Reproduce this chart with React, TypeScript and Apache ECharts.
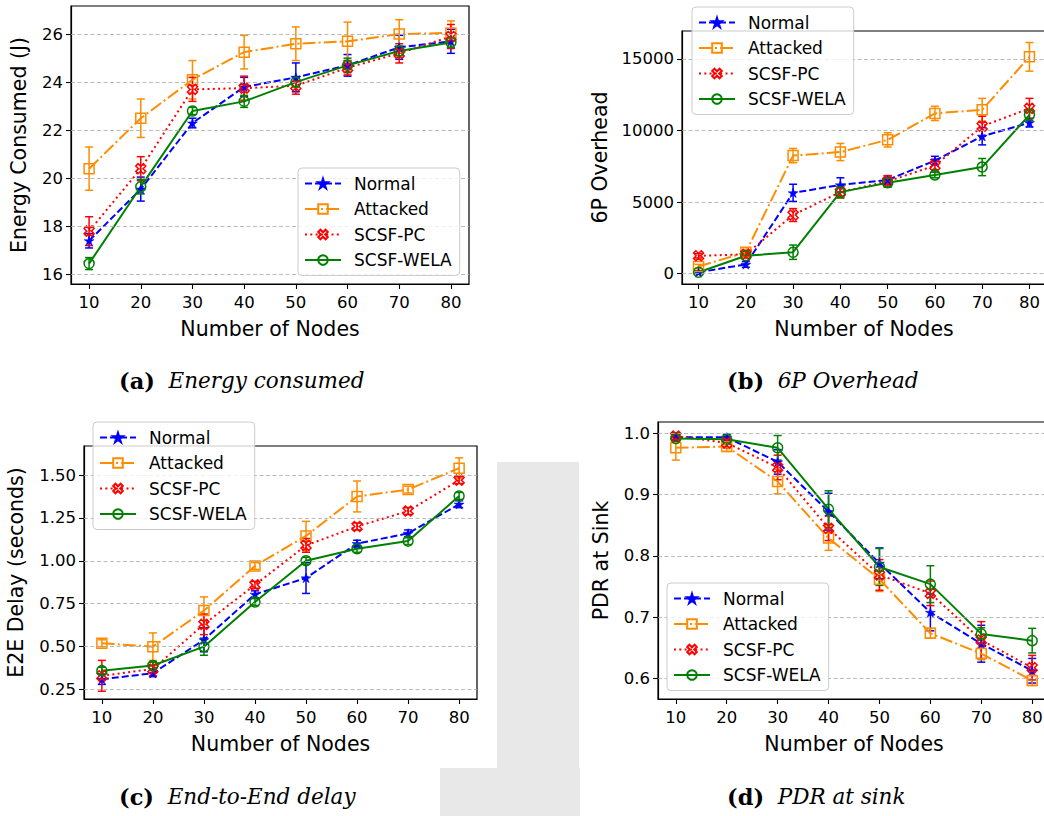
import React, { useEffect, useRef } from "react";
import * as echarts from "echarts";

// ---------- data ----------
const nodes = [10, 20, 30, 40, 50, 60, 70, 80];
const seriesNames = ["Normal", "Attacked", "SCSF-PC", "SCSF-WELA"];
const xTicks = [10, 20, 30, 40, 50, 60, 70, 80];

// (a) Energy consumed (J)
const energyNormal = [17.4, 19.55, 22.3, 23.8, 24.2, 24.7, 25.45, 25.7];
const energyNormalErr = [0.3, 0.5, 0.2, 0.4, 0.6, 0.45, 0.5, 0.5];
const energyAttacked = [20.4, 22.5, 24.1, 25.25, 25.6, 25.7, 26.0, 26.05];
const energyAttackedErr = [0.9, 0.8, 0.8, 0.7, 0.7, 0.8, 0.6, 0.5];
const energyPC = [17.8, 20.4, 23.7, 23.75, 23.85, 24.6, 25.2, 25.9];
const energyPCErr = [0.6, 0.5, 0.5, 0.5, 0.35, 0.3, 0.4, 0.5];
const energyWELA = [16.45, 19.65, 22.8, 23.2, 24.0, 24.7, 25.3, 25.65];
const energyWELAErr = [0.25, 0.3, 0.15, 0.25, 0.2, 0.3, 0.2, 0.2];
const energyTicks = [16, 18, 20, 22, 24, 26];

// (b) 6P overhead
const overheadNormal = [100, 650, 5650, 6200, 6550, 7900, 9600, 10550];
const overheadNormalErr = [80, 200, 600, 500, 300, 300, 600, 300];
const overheadAttacked = [500, 1500, 8250, 8500, 9350, 11200, 11450, 15150];
const overheadAttackedErr = [150, 200, 500, 600, 500, 500, 800, 1000];
const overheadPC = [1250, 1350, 4100, 5700, 6450, 7550, 10300, 11550];
const overheadPCErr = [150, 150, 450, 400, 400, 450, 700, 700];
const overheadWELA = [100, 1250, 1500, 5700, 6350, 6900, 7450, 11100];
const overheadWELAErr = [80, 150, 500, 400, 300, 200, 600, 400];
const overheadTicks = [0, 5000, 10000, 15000];

// (c) End-to-end delay (s)
const delayNormal = [0.31, 0.345, 0.54, 0.805, 0.9, 1.1, 1.16, 1.33];
const delayNormalErr = [0.03, 0.02, 0.07, 0.02, 0.09, 0.02, 0.02, 0.02];
const delayAttacked = [0.52, 0.5, 0.71, 0.97, 1.145, 1.375, 1.415, 1.54];
const delayAttackedErr = [0.02, 0.08, 0.08, 0.02, 0.085, 0.09, 0.02, 0.06];
const delayPC = [0.33, 0.37, 0.63, 0.86, 1.09, 1.2, 1.29, 1.47];
const delayPCErr = [0.09, 0.04, 0.06, 0.02, 0.04, 0.02, 0.02, 0.02];
const delayWELA = [0.36, 0.39, 0.5, 0.76, 1.0, 1.07, 1.115, 1.378];
const delayWELAErr = [0.02, 0.02, 0.05, 0.02, 0.02, 0.02, 0.02, 0.02];
const delayTicks = [0.25, 0.5, 0.75, 1.0, 1.25, 1.5];

// (d) PDR at sink
const pdrNormal = [0.993, 0.993, 0.953, 0.872, 0.788, 0.708, 0.657, 0.613];
const pdrNormalErr = [0.005, 0.005, 0.02, 0.03, 0.025, 0.03, 0.03, 0.02];
const pdrAttacked = [0.976, 0.978, 0.921, 0.829, 0.762, 0.674, 0.641, 0.597];
const pdrAttackedErr = [0.02, 0.008, 0.02, 0.02, 0.02, 0.008, 0.01, 0.008];
const pdrPC = [0.995, 0.984, 0.944, 0.845, 0.769, 0.739, 0.663, 0.618];
const pdrPCErr = [0.005, 0.008, 0.02, 0.02, 0.025, 0.02, 0.03, 0.02];
const pdrWELA = [0.991, 0.99, 0.976, 0.876, 0.782, 0.754, 0.673, 0.662];
const pdrWELAErr = [0.005, 0.005, 0.02, 0.03, 0.03, 0.03, 0.01, 0.02];
const pdrTicks = [0.6, 0.7, 0.8, 0.9, 1.0];

// ---------- styles ----------
const FONT = "DejaVu Sans";
const SERIF = "DejaVu Serif";
const colors = ["#0000ff", "#ff8c00", "#ff0000", "#008000"];
const dashes: any[] = [[7, 3], [12.8, 3.2, 2, 3.2], [2, 3.3], "solid"];
const STAR =
  "path://M0,-1 L0.2245,-0.309 L0.951,-0.309 L0.363,0.118 L0.588,0.809 L0,0.382 L-0.588,0.809 L-0.363,0.118 L-0.951,-0.309 L-0.2245,-0.309 Z";
const XMARK =
  "path://M0.495,-0.919 L0.919,-0.495 L0.424,0 L0.919,0.495 L0.495,0.919 L0,0.424 L-0.495,0.919 L-0.919,0.495 L-0.424,0 L-0.919,-0.495 L-0.495,-0.919 L0,-0.424 Z";
const symbols = [STAR, "rect", XMARK, "circle"];
const symbolSizes = [10, 10, 10, 10];

const panels = [
  {
    vals: [energyNormal, energyAttacked, energyPC, energyWELA],
    errs: [energyNormalErr, energyAttackedErr, energyPCErr, energyWELAErr],
    ticks: energyTicks, fmt: (v: number) => String(v),
    yName: "Energy Consumed (J)", yMin: 15.6, yMax: 27.17,
    grid: { left: 71, top: 6, width: 398, height: 278 }, nameGap: 42,
    legend: { left: 298, top: 168 },
    caption: { tag: "(a)", text: "Energy consumed", left: 119, top: 369 },
  },
  {
    vals: [overheadNormal, overheadAttacked, overheadPC, overheadWELA],
    errs: [overheadNormalErr, overheadAttackedErr, overheadPCErr, overheadWELAErr],
    ticks: overheadTicks, fmt: (v: number) => String(v),
    yName: "6P Overhead", yMin: -720, yMax: 16956,
    grid: { left: 682, top: 31, width: 364, height: 253 }, nameGap: 72,
    legend: { left: 692, top: 7 },
    caption: { tag: "(b)", text: "6P Overhead", left: 727, top: 369 },
  },
  {
    vals: [delayNormal, delayAttacked, delayPC, delayWELA],
    errs: [delayNormalErr, delayAttackedErr, delayPCErr, delayWELAErr],
    ticks: delayTicks, fmt: (v: number) => v.toFixed(2),
    yName: "E2E Delay (seconds)", yMin: 0.195, yMax: 1.669,
    grid: { left: 84, top: 446, width: 393, height: 253 }, nameGap: 58,
    legend: { left: 93, top: 422 },
    caption: { tag: "(c)", text: "End-to-End delay", left: 119, top: 785 },
  },
  {
    vals: [pdrNormal, pdrAttacked, pdrPC, pdrWELA],
    errs: [pdrNormalErr, pdrAttackedErr, pdrPCErr, pdrWELAErr],
    ticks: pdrTicks, fmt: (v: number) => v.toFixed(1),
    yName: "PDR at Sink", yMin: 0.567, yMax: 1.018,
    grid: { left: 658, top: 422, width: 392, height: 277 }, nameGap: 47,
    legend: { left: 667, top: 583 },
    caption: { tag: "(d)", text: "PDR at sink", left: 727, top: 785 },
  },
];

function buildOption() {
  const grid: any[] = [];
  const xAxis: any[] = [];
  const yAxis: any[] = [];
  const legend: any[] = [];
  const series: any[] = [];
  const graphic: any[] = [
    { type: "rect", z: -10, shape: { x: 497, y: 462, width: 82, height: 306 }, style: { fill: "#e8e8e8" } },
    { type: "rect", z: -10, shape: { x: 440, y: 768, width: 140, height: 48 }, style: { fill: "#e8e8e8" } },
  ];

  panels.forEach((p, i) => {
    grid.push({
      ...p.grid,
      show: true,
      backgroundColor: "#ffffff",
      borderColor: "#000",
      borderWidth: 1.2,
      containLabel: false,
      outerBoundsMode: "none",
    });
    xAxis.push({
      type: "value",
      gridIndex: i,
      min: 6.5,
      max: 83.5,
      axisLine: { show: true, onZero: false, lineStyle: { color: "#000", width: 1.2 } },
      axisTick: { show: true, customValues: xTicks, length: 5, lineStyle: { color: "#000", width: 1.1 } },
      axisLabel: { customValues: xTicks, fontSize: 16.5, fontFamily: FONT, color: "#000", margin: 10 },
      splitLine: { show: false },
      name: "Number of Nodes",
      nameLocation: "middle",
      nameGap: 34,
      nameTextStyle: { fontSize: 20.5, fontFamily: FONT, color: "#000" },
    });
    yAxis.push({
      type: "value",
      gridIndex: i,
      min: p.yMin,
      max: p.yMax,
      axisLine: { show: true, onZero: false, lineStyle: { color: "#000", width: 1.2 } },
      axisTick: { show: true, customValues: p.ticks, length: 5, lineStyle: { color: "#000", width: 1.1 } },
      axisLabel: { customValues: p.ticks, formatter: p.fmt, fontSize: 16.5, fontFamily: FONT, color: "#000", margin: 8 },
      splitLine: { show: false },
      name: p.yName,
      nameLocation: "middle",
      nameGap: p.nameGap,
      nameTextStyle: { fontSize: 20.5, fontFamily: FONT, color: "#000" },
    });
    legend.push({
      data: seriesNames,
      orient: "vertical",
      left: p.legend.left,
      top: p.legend.top,
      itemWidth: 36,
      itemHeight: 12,
      itemGap: 8.5,
      selectedMode: false,
      textStyle: { fontSize: 17, fontFamily: FONT, color: "#000", lineHeight: 17, padding: [0, 0, 0, 8] },
      backgroundColor: "rgba(255,255,255,0.8)",
      borderColor: "#cccccc",
      borderWidth: 1,
      borderRadius: 4,
      padding: [7, 8, 7, 6],
      z: 20,
    });
    // gridlines
    series.push({
      type: "line",
      name: "grid-" + i,
      xAxisIndex: i,
      yAxisIndex: i,
      data: [],
      z: 1,
      silent: true,
      markLine: {
        silent: true,
        symbol: "none",
        label: { show: false },
        emphasis: { disabled: true },
        lineStyle: { color: "#a8a8a8", type: [4, 2.5], width: 0.8 },
        data: p.ticks.map((v) => ({ yAxis: v })),
      },
    });
    seriesNames.forEach((name, s) => {
      const hollow = s !== 0;
      series.push({
        type: "line",
        name,
        xAxisIndex: i,
        yAxisIndex: i,
        data: nodes.map((x, k) => [x, p.vals[s][k]]),
        symbol: symbols[s],
        symbolSize: symbolSizes[s],
        symbolKeepAspect: true,
        showAllSymbol: true,
        lineStyle: { color: colors[s], width: 2, type: dashes[s] },
        itemStyle: {
          color: hollow ? "rgba(255,255,255,0)" : colors[s],
          borderColor: colors[s],
          borderWidth: hollow ? 1.5 : 0.5,
        },
        emphasis: { disabled: true },
        z: 3,
      });
      series.push({
        type: "custom",
        name: name + "-err-" + i,
        xAxisIndex: i,
        yAxisIndex: i,
        data: nodes.map((x, k) => [x, p.vals[s][k], p.errs[s][k]]),
        encode: { x: 0, y: 1 },
        silent: true,
        z: 3,
        renderItem: (params: any, api: any) => {
          const x = api.value(0);
          const y = api.value(1);
          const e = api.value(2);
          const top = api.coord([x, y + e]);
          const bot = api.coord([x, y - e]);
          const cap = 4;
          const st = { stroke: colors[s], lineWidth: 1.5 };
          return {
            type: "group",
            children: [
              { type: "line", shape: { x1: top[0], y1: top[1], x2: bot[0], y2: bot[1] }, style: st },
              { type: "line", shape: { x1: top[0] - cap, y1: top[1], x2: top[0] + cap, y2: top[1] }, style: st },
              { type: "line", shape: { x1: bot[0] - cap, y1: bot[1], x2: bot[0] + cap, y2: bot[1] }, style: st },
            ],
          };
        },
      });
    });
    graphic.push({
      type: "text",
      left: p.caption.left,
      top: p.caption.top,
      style: {
        text: "{b|" + p.caption.tag + "}{i|  " + p.caption.text + "}",
        rich: {
          b: { fontWeight: "bold", fontFamily: SERIF, fontSize: 22.5, fill: "#000" },
          i: { fontStyle: "italic", fontFamily: SERIF, fontSize: 21.5, fill: "#000" },
        },
        fill: "#000",
      },
    });
  });

  return { animation: false, backgroundColor: "#ffffff", grid, xAxis, yAxis, legend, series, graphic };
}

export default function App() {
  const ref = useRef<HTMLDivElement>(null);
  useEffect(() => {
    if (!ref.current) return;
    const chart = echarts.init(ref.current, null, { renderer: "svg" });
    chart.setOption(buildOption() as any);
    return () => chart.dispose();
  }, []);
  return (
    <div
      ref={ref}
      style={{ position: "absolute", left: 0, top: 0, width: 1044, height: 816 }}
    />
  );
}
